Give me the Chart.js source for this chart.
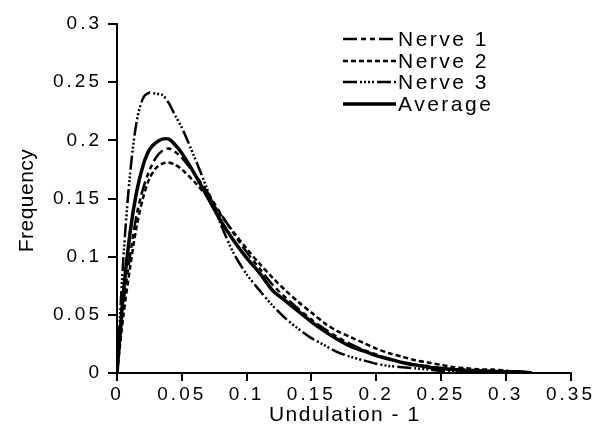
<!DOCTYPE html>
<html>
<head>
<meta charset="utf-8">
<script src="https://cdn.jsdelivr.net/npm/chart.js@4"></script>
<style>
  html, body { margin: 0; padding: 0; background: #fff; }
  #wrap { width: 597px; height: 442px; }
</style>
</head>
<body>
<div id="wrap"><canvas id="chart"></canvas></div>
<script>
// undulation - 1 (x values shared by all curves)
const undulation = [0, 0.005, 0.01, 0.015, 0.02, 0.025, 0.03, 0.035, 0.04, 0.045, 0.05,
  0.06, 0.07, 0.08, 0.09, 0.1, 0.11, 0.12, 0.13, 0.14, 0.15, 0.16, 0.17, 0.18, 0.19, 0.2,
  0.21, 0.22, 0.23, 0.24, 0.25, 0.26, 0.27, 0.28, 0.29, 0.3, 0.31, 0.32];

const nerve1 = [0, 0.06, 0.10, 0.135, 0.158, 0.174, 0.185, 0.191, 0.193, 0.190, 0.185,
  0.171, 0.155, 0.137, 0.120, 0.104, 0.090, 0.076, 0.065, 0.055, 0.046, 0.038, 0.031, 0.025, 0.020, 0.016,
  0.012, 0.009, 0.007, 0.006, 0.004, 0.003, 0.003, 0.002, 0.002, 0.001, 0.001, 0];

const nerve2 = [0, 0.05, 0.09, 0.125, 0.150, 0.167, 0.176, 0.180, 0.181, 0.179, 0.175,
  0.164, 0.151, 0.136, 0.121, 0.107, 0.094, 0.082, 0.071, 0.061, 0.052, 0.043, 0.036, 0.031, 0.026, 0.021,
  0.017, 0.014, 0.011, 0.009, 0.007, 0.005, 0.004, 0.003, 0.003, 0.002, 0.001, 0];

const nerve3 = [0, 0.10, 0.17, 0.215, 0.236, 0.241, 0.240, 0.239, 0.232, 0.221, 0.211,
  0.185, 0.157, 0.128, 0.103, 0.085, 0.071, 0.058, 0.047, 0.038, 0.030, 0.024, 0.018, 0.014, 0.011, 0.008,
  0.006, 0.005, 0.004, 0.003, 0.002, 0.002, 0.001, 0.001, 0.001, 0.001, 0.001, 0];

const average = [0, 0.07, 0.12, 0.155, 0.178, 0.192, 0.198, 0.201, 0.201, 0.196, 0.189,
  0.171, 0.151, 0.131, 0.114, 0.099, 0.086, 0.071, 0.062, 0.053, 0.044, 0.036, 0.029, 0.023, 0.019, 0.015,
  0.012, 0.009, 0.007, 0.005, 0.004, 0.003, 0.002, 0.002, 0.001, 0.001, 0.001, 0];

const seriesNames = ['Nerve 1', 'Nerve 2', 'Nerve 3', 'Average'];
const seriesValues = [nerve1, nerve2, nerve3, average];
const seriesDash = [[14, 4, 5, 4, 5, 4], [5, 3], [14, 3, 2, 2, 2, 2, 2, 2, 2, 3], []];
const seriesWidth = [2.5, 2.5, 2.5, 3.5];

const xTitle = 'Undulation - 1';
const yTitle = 'Frequency';

const FONT = '"Liberation Sans", Arial, sans-serif';

const datasets = seriesNames.map((name, i) => ({
  label: name,
  data: undulation.map((x, j) => ({ x: x, y: seriesValues[i][j] })),
  borderColor: '#000',
  borderWidth: seriesWidth[i],
  borderDash: seriesDash[i],
  pointRadius: 0,
  showLine: true,
  fill: false,
  tension: 0.3
}));

// tick labels like 0.05, 0.1, 0.15 (no trailing zeros)
const fmt = (v) => String(parseFloat(Number(v).toFixed(3)));

// wide letter spacing for the tick labels, like the scanned figure
const spacingPlugin = {
  id: 'spacing',
  beforeLayout(chart) { chart.ctx.letterSpacing = '3px'; },
  beforeDraw(chart) { chart.ctx.letterSpacing = '3px'; }
};

// titles and legend drawn by hand
const decorPlugin = {
  id: 'decor',
  afterDraw(chart) {
    const ctx = chart.ctx;
    const area = chart.chartArea;
    ctx.save();
    ctx.fillStyle = '#000';
    ctx.strokeStyle = '#000';

    // x title
    ctx.letterSpacing = '1.5px';
    ctx.font = '21px ' + FONT;
    ctx.textAlign = 'center';
    ctx.textBaseline = 'middle';
    ctx.fillText(xTitle, (area.left + area.right) / 2 + 1, 415);

    // y title
    ctx.letterSpacing = '0.5px';
    ctx.save();
    ctx.translate(27, (area.top + area.bottom) / 2 + 2);
    ctx.rotate(-Math.PI / 2);
    ctx.font = '21px ' + FONT;
    ctx.fillText(yTitle, 0, 0);
    ctx.restore();

    // legend
    ctx.letterSpacing = '2.5px';
    ctx.font = '21px ' + FONT;
    ctx.textAlign = 'left';
    const rows = [39, 61, 82, 104];
    chart.data.datasets.forEach((ds, i) => {
      const y = rows[i];
      ctx.beginPath();
      ctx.lineWidth = ds.borderWidth;
      ctx.setLineDash(ds.borderDash);
      ctx.moveTo(343, y);
      ctx.lineTo(396, y);
      ctx.stroke();
      ctx.setLineDash([]);
      ctx.fillText(ds.label, 398, y + 1);
    });
    ctx.restore();
  }
};

new Chart(document.getElementById('chart'), {
  type: 'scatter',
  data: { datasets: datasets },
  plugins: [spacingPlugin, decorPlugin],
  options: {
    responsive: true,
    maintainAspectRatio: false,
    animation: false,
    layout: { padding: { left: 0, top: 24, right: 24, bottom: 0 } },
    plugins: {
      legend: { display: false },
      tooltip: { enabled: false }
    },
    scales: {
      x: {
        type: 'linear',
        min: 0,
        max: 0.35,
        afterFit: (scale) => { scale.height = 69; },
        ticks: { stepSize: 0.05, color: '#000', font: { family: FONT, size: 19 }, padding: 2, maxRotation: 0, callback: fmt },
        grid: { drawOnChartArea: false, color: '#000', lineWidth: 2, tickLength: 8 },
        border: { color: '#000', width: 2 }
      },
      y: {
        type: 'linear',
        min: 0,
        max: 0.3,
        afterFit: (scale) => { scale.width = 117; },
        ticks: { stepSize: 0.05, color: '#000', font: { family: FONT, size: 19 }, padding: 6, callback: fmt },
        grid: { drawOnChartArea: false, color: '#000', lineWidth: 2, tickLength: 9 },
        border: { color: '#000', width: 2 }
      }
    }
  }
});
</script>
</body>
</html>
